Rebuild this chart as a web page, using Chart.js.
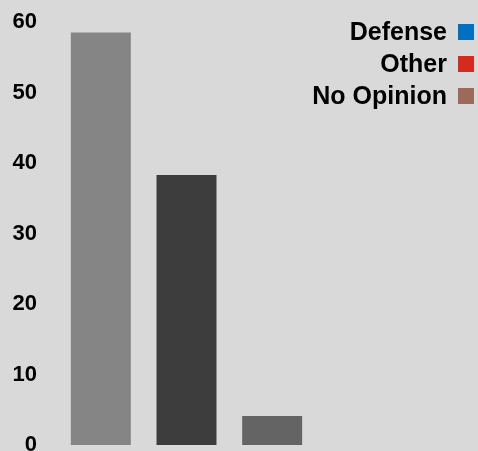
<!DOCTYPE html>
<html>
<head>
<meta charset="utf-8">
<script src="https://cdn.jsdelivr.net/npm/chart.js@4.4.1/dist/chart.umd.min.js"></script>
<style>
  html, body { margin: 0; padding: 0; background: #d9d9d9; }
  #wrap { width: 478px; height: 451px; }
</style>
</head>
<body>
<div id="wrap"><canvas id="pollChart"></canvas></div>
<script>
// data
const categories = ['Defense', 'Other', 'No Opinion'];
const percentValues = [58.5, 38.3, 4.1];
const barColors = ['#858585', '#3d3d3d', '#646464'];
const legendLabels = ['Defense', 'Other', 'No Opinion'];
const legendColors = ['#0070c0', '#d42b1e', '#9c6a5b'];
const yTicks = [0, 10, 20, 30, 40, 50, 60];

// legend drawn in the top right corner, box on the right of the text
const cornerLegend = {
  id: 'cornerLegend',
  afterDraw(chart) {
    const ctx = chart.ctx
    ctx.save()
    ctx.font = 'bold 25px "Liberation Sans", Arial, sans-serif'
    ctx.textAlign = 'right'
    ctx.textBaseline = 'middle'
    legendLabels.forEach((label, i) => {
      const y = 32 + i * 32
      ctx.fillStyle = '#000000'
      ctx.fillText(label, 447, y + 1)
      ctx.fillStyle = legendColors[i]
      ctx.fillRect(458, y - 8, 16, 16)
    })
    ctx.restore()
  }
}

const ctx = document.getElementById('pollChart').getContext('2d');
new Chart(ctx, {
  type: 'bar',
  data: {
    labels: categories,
    datasets: [{
      data: percentValues,
      backgroundColor: barColors,
      borderWidth: 0,
      categoryPercentage: 1,
      barPercentage: 0.7
    }]
  },
  options: {
    responsive: true,
    maintainAspectRatio: false,
    animation: false,
    layout: {
      padding: { top: 22, bottom: 6, left: 0, right: 163 }
    },
    plugins: {
      legend: { display: false },
      tooltip: { enabled: false }
    },
    scales: {
      x: { display: false },
      y: {
        min: 0,
        max: 60,
        afterBuildTicks: scale => { scale.ticks = yTicks.map(v => ({ value: v })) },
        afterFit: scale => {
          scale.width = 58
          scale.paddingTop = 0
          scale.paddingBottom = 0
        },
        grid: { display: false, drawTicks: false },
        border: { display: false },
        ticks: {
          padding: 21,
          color: '#000000',
          font: { family: '"Liberation Sans", Arial, sans-serif', size: 22, weight: 'bold' }
        }
      }
    }
  },
  plugins: [cornerLegend]
});
</script>
</body>
</html>
